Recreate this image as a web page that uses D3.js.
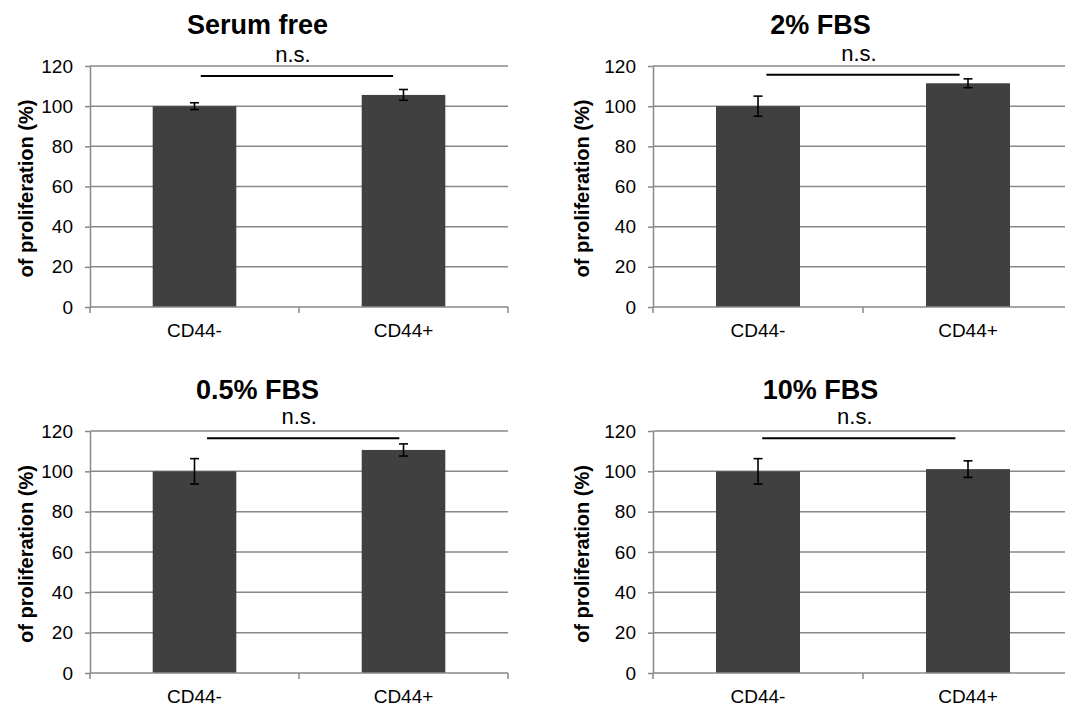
<!DOCTYPE html>
<html>
<head>
<meta charset="utf-8">
<script src="https://cdn.jsdelivr.net/npm/d3@7"></script>
<style>
  body { margin: 0; background: #fff; }
  text { font-family: "Liberation Sans", Arial, sans-serif; }
</style>
</head>
<body>
<div id="chart"></div>
<script>
// data
var titles = ["Serum free", "2% FBS", "0.5% FBS", "10% FBS"];
var categories = ["CD44-", "CD44+"];
var means = [[100, 105.6], [100, 111.4], [100, 110.6], [100, 101.1]];
var errors = [[1.7, 2.7], [5.0, 2.2], [6.3, 3.0], [6.3, 4.1]];
var yTicks = [0, 20, 40, 60, 80, 100, 120];
var sigLabel = "n.s.";
var sigLevel = [115, 115.7, 116.4, 116.4];
var yLabel = "of proliferation (%)";

// layout of the four plot areas
var frames = [
  {x: 90,  y: 66,  w: 418, h: 241, labelX: 33},
  {x: 653, y: 66,  w: 420, h: 241, labelX: 589},
  {x: 90,  y: 431, w: 418, h: 242, labelX: 33},
  {x: 653, y: 431, w: 420, h: 242, labelX: 589}
];
// where the n.s. bar starts / ends, in band steps from the left edge
var sigSpan = [[0.53, 1.45], [0.54, 1.46], [0.56, 1.48], [0.52, 1.44]];

var gray = "#888888", barColor = "#404040";

var svg = d3.select("#chart")
  .append("svg")
  .attr("width", 1065)
  .attr("height", 709);

svg.append("rect").attr("width", 1065).attr("height", 709).attr("fill", "#fff");

frames.forEach(function(f, i) {
  var g = svg.append("g").attr("transform", "translate(" + f.x + "," + f.y + ")");

  var x = d3.scaleBand().domain(categories).range([0, f.w])
    .paddingInner(0.6).paddingOuter(0.3);
  var y = d3.scaleLinear().domain([0, 120]).range([f.h, 0]);

  // gridlines
  g.append("g")
    .selectAll("line")
    .data(yTicks.filter(function(d){ return d > 0; }))
    .enter().append("line")
    .attr("x1", 0).attr("x2", f.w)
    .attr("y1", function(d){ return y(d); })
    .attr("y2", function(d){ return y(d); })
    .attr("stroke", gray).attr("stroke-width", 1.5);

  // y axis
  var ya = g.append("g")
    .call(d3.axisLeft(y).tickValues(yTicks).tickSize(5).tickSizeOuter(0).tickPadding(12));
  ya.select(".domain").attr("stroke", gray).attr("stroke-width", 1.5);
  ya.selectAll(".tick line").attr("stroke", gray).attr("stroke-width", 1.5);
  ya.selectAll("text").attr("font-size", 19).attr("fill", "#000")
    .style("font-family", "'Liberation Sans', Arial, sans-serif");

  // bars
  g.selectAll(".bar")
    .data(categories)
    .enter().append("rect").attr("class", "bar")
    .attr("x", function(d){ return x(d); })
    .attr("width", x.bandwidth())
    .attr("y", function(d, j){ return y(means[i][j]); })
    .attr("height", function(d, j){ return f.h - y(means[i][j]); })
    .attr("fill", barColor);

  // x axis: line + boundary ticks
  var step = x.step();
  g.append("line")
    .attr("x1", 0).attr("x2", f.w)
    .attr("y1", f.h).attr("y2", f.h)
    .attr("stroke", gray).attr("stroke-width", 1.5);
  g.selectAll(".xtick")
    .data([0, 1, 2])
    .enter().append("line").attr("class", "xtick")
    .attr("x1", function(d){ return d * step; })
    .attr("x2", function(d){ return d * step; })
    .attr("y1", f.h).attr("y2", f.h + 6)
    .attr("stroke", gray).attr("stroke-width", 1.5);

  var xa = g.append("g")
    .attr("transform", "translate(0," + f.h + ")")
    .call(d3.axisBottom(x).tickSize(0).tickPadding(17));
  xa.select(".domain").remove();
  xa.selectAll("text").attr("font-size", 19).attr("fill", "#000")
    .style("font-family", "'Liberation Sans', Arial, sans-serif");

  // error bars
  var eb = g.selectAll(".err")
    .data(categories)
    .enter().append("g").attr("class", "err")
    .attr("stroke", "#000").attr("stroke-width", 1.6);
  eb.append("line")
    .attr("x1", function(d){ return x(d) + x.bandwidth() / 2; })
    .attr("x2", function(d){ return x(d) + x.bandwidth() / 2; })
    .attr("y1", function(d, j){ return y(means[i][j] + errors[i][j]); })
    .attr("y2", function(d, j){ return y(means[i][j] - errors[i][j]); });
  [1, -1].forEach(function(s) {
    eb.append("line")
      .attr("x1", function(d){ return x(d) + x.bandwidth() / 2 - 4.5; })
      .attr("x2", function(d){ return x(d) + x.bandwidth() / 2 + 4.5; })
      .attr("y1", function(d, j){ return y(means[i][j] + s * errors[i][j]); })
      .attr("y2", function(d, j){ return y(means[i][j] + s * errors[i][j]); });
  });

  // significance bar
  var sx1 = sigSpan[i][0] * step, sx2 = sigSpan[i][1] * step, sy = y(sigLevel[i]);
  g.append("line")
    .attr("x1", sx1).attr("x2", sx2)
    .attr("y1", sy).attr("y2", sy)
    .attr("stroke", "#000").attr("stroke-width", 2);
  g.append("text")
    .attr("x", (sx1 + sx2) / 2 - 4)
    .attr("y", sy - 14)
    .attr("text-anchor", "middle")
    .attr("font-size", 22)
    .text(sigLabel);

  // title
  g.append("text")
    .attr("x", 167.5)
    .attr("y", -32)
    .attr("text-anchor", "middle")
    .attr("font-size", 27)
    .attr("font-weight", "bold")
    .text(titles[i]);

  // y label
  svg.append("text")
    .attr("transform", "translate(" + f.labelX + "," + (f.y + f.h / 2 + 2) + ") rotate(-90)")
    .attr("text-anchor", "middle")
    .attr("font-size", 20)
    .attr("font-weight", "bold")
    .text(yLabel);
});
</script>
</body>
</html>
